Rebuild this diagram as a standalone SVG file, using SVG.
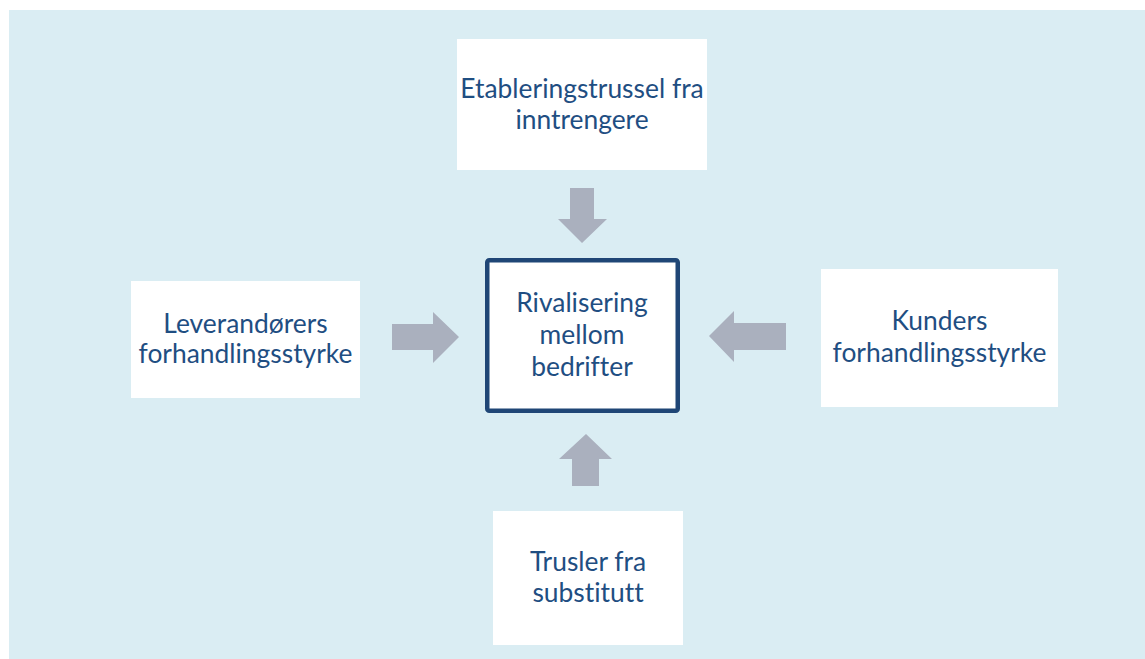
<svg xmlns="http://www.w3.org/2000/svg" width="1145" height="659" viewBox="0 0 1145 659">
<style>
.box{fill:#ffffff;}
.center{fill:#ffffff;stroke:#1F4676;stroke-width:4.5;}
.arrow{fill:#AAB0BE;}
.lbl{font-family:Lato,"Open Sans","Liberation Sans",sans-serif;font-size:26.4px;fill:#1F4E82;text-anchor:middle;font-variant-ligatures:none;}
</style>
<rect x="0" y="0" width="1145" height="659" fill="#ffffff"/>
<rect x="9" y="10" width="1136" height="649" fill="#DAEDF3"/>
<g id="connectors">
<polygon class="arrow" points="570,188 594,188 594,219 607,219 582,243 558,219 570,219"/>
<polygon class="arrow" points="392,324 433,324 433,312 459,337 433,363 433,350 392,350"/>
<polygon class="arrow" points="786,323 734,323 734,311 709,336 734,362 734,350 786,350"/>
<polygon class="arrow" points="572,486 599,486 599,459 612,459 586,434 559,459 572,459"/>
</g>
<g id="node-top">
<rect class="box" x="457" y="39" width="250" height="131"/>
<text class="lbl" x="582" y="98">Etableringstrussel fra</text>
<text class="lbl" x="582" y="129">inntrengere</text>
</g>
<g id="node-center">
<rect class="center" x="487.25" y="260.25" width="190.5" height="150.5" rx="2"/>
<text class="lbl" x="582" y="312">Rivalisering</text>
<text class="lbl" x="582" y="344">mellom</text>
<text class="lbl" x="582" y="376">bedrifter</text>
</g>
<g id="node-left">
<rect class="box" x="131" y="281" width="229" height="117"/>
<text class="lbl" x="245.5" y="333">Leverandørers</text>
<text class="lbl" x="245.5" y="363">forhandlingsstyrke</text>
</g>
<g id="node-right">
<rect class="box" x="821" y="269" width="237" height="138"/>
<text class="lbl" x="939.5" y="330">Kunders</text>
<text class="lbl" x="939.5" y="362">forhandlingsstyrke</text>
</g>
<g id="node-bottom">
<rect class="box" x="493" y="511" width="190" height="134"/>
<text class="lbl" x="588" y="571">Trusler fra</text>
<text class="lbl" x="588" y="602">substitutt</text>
</g>
</svg>
